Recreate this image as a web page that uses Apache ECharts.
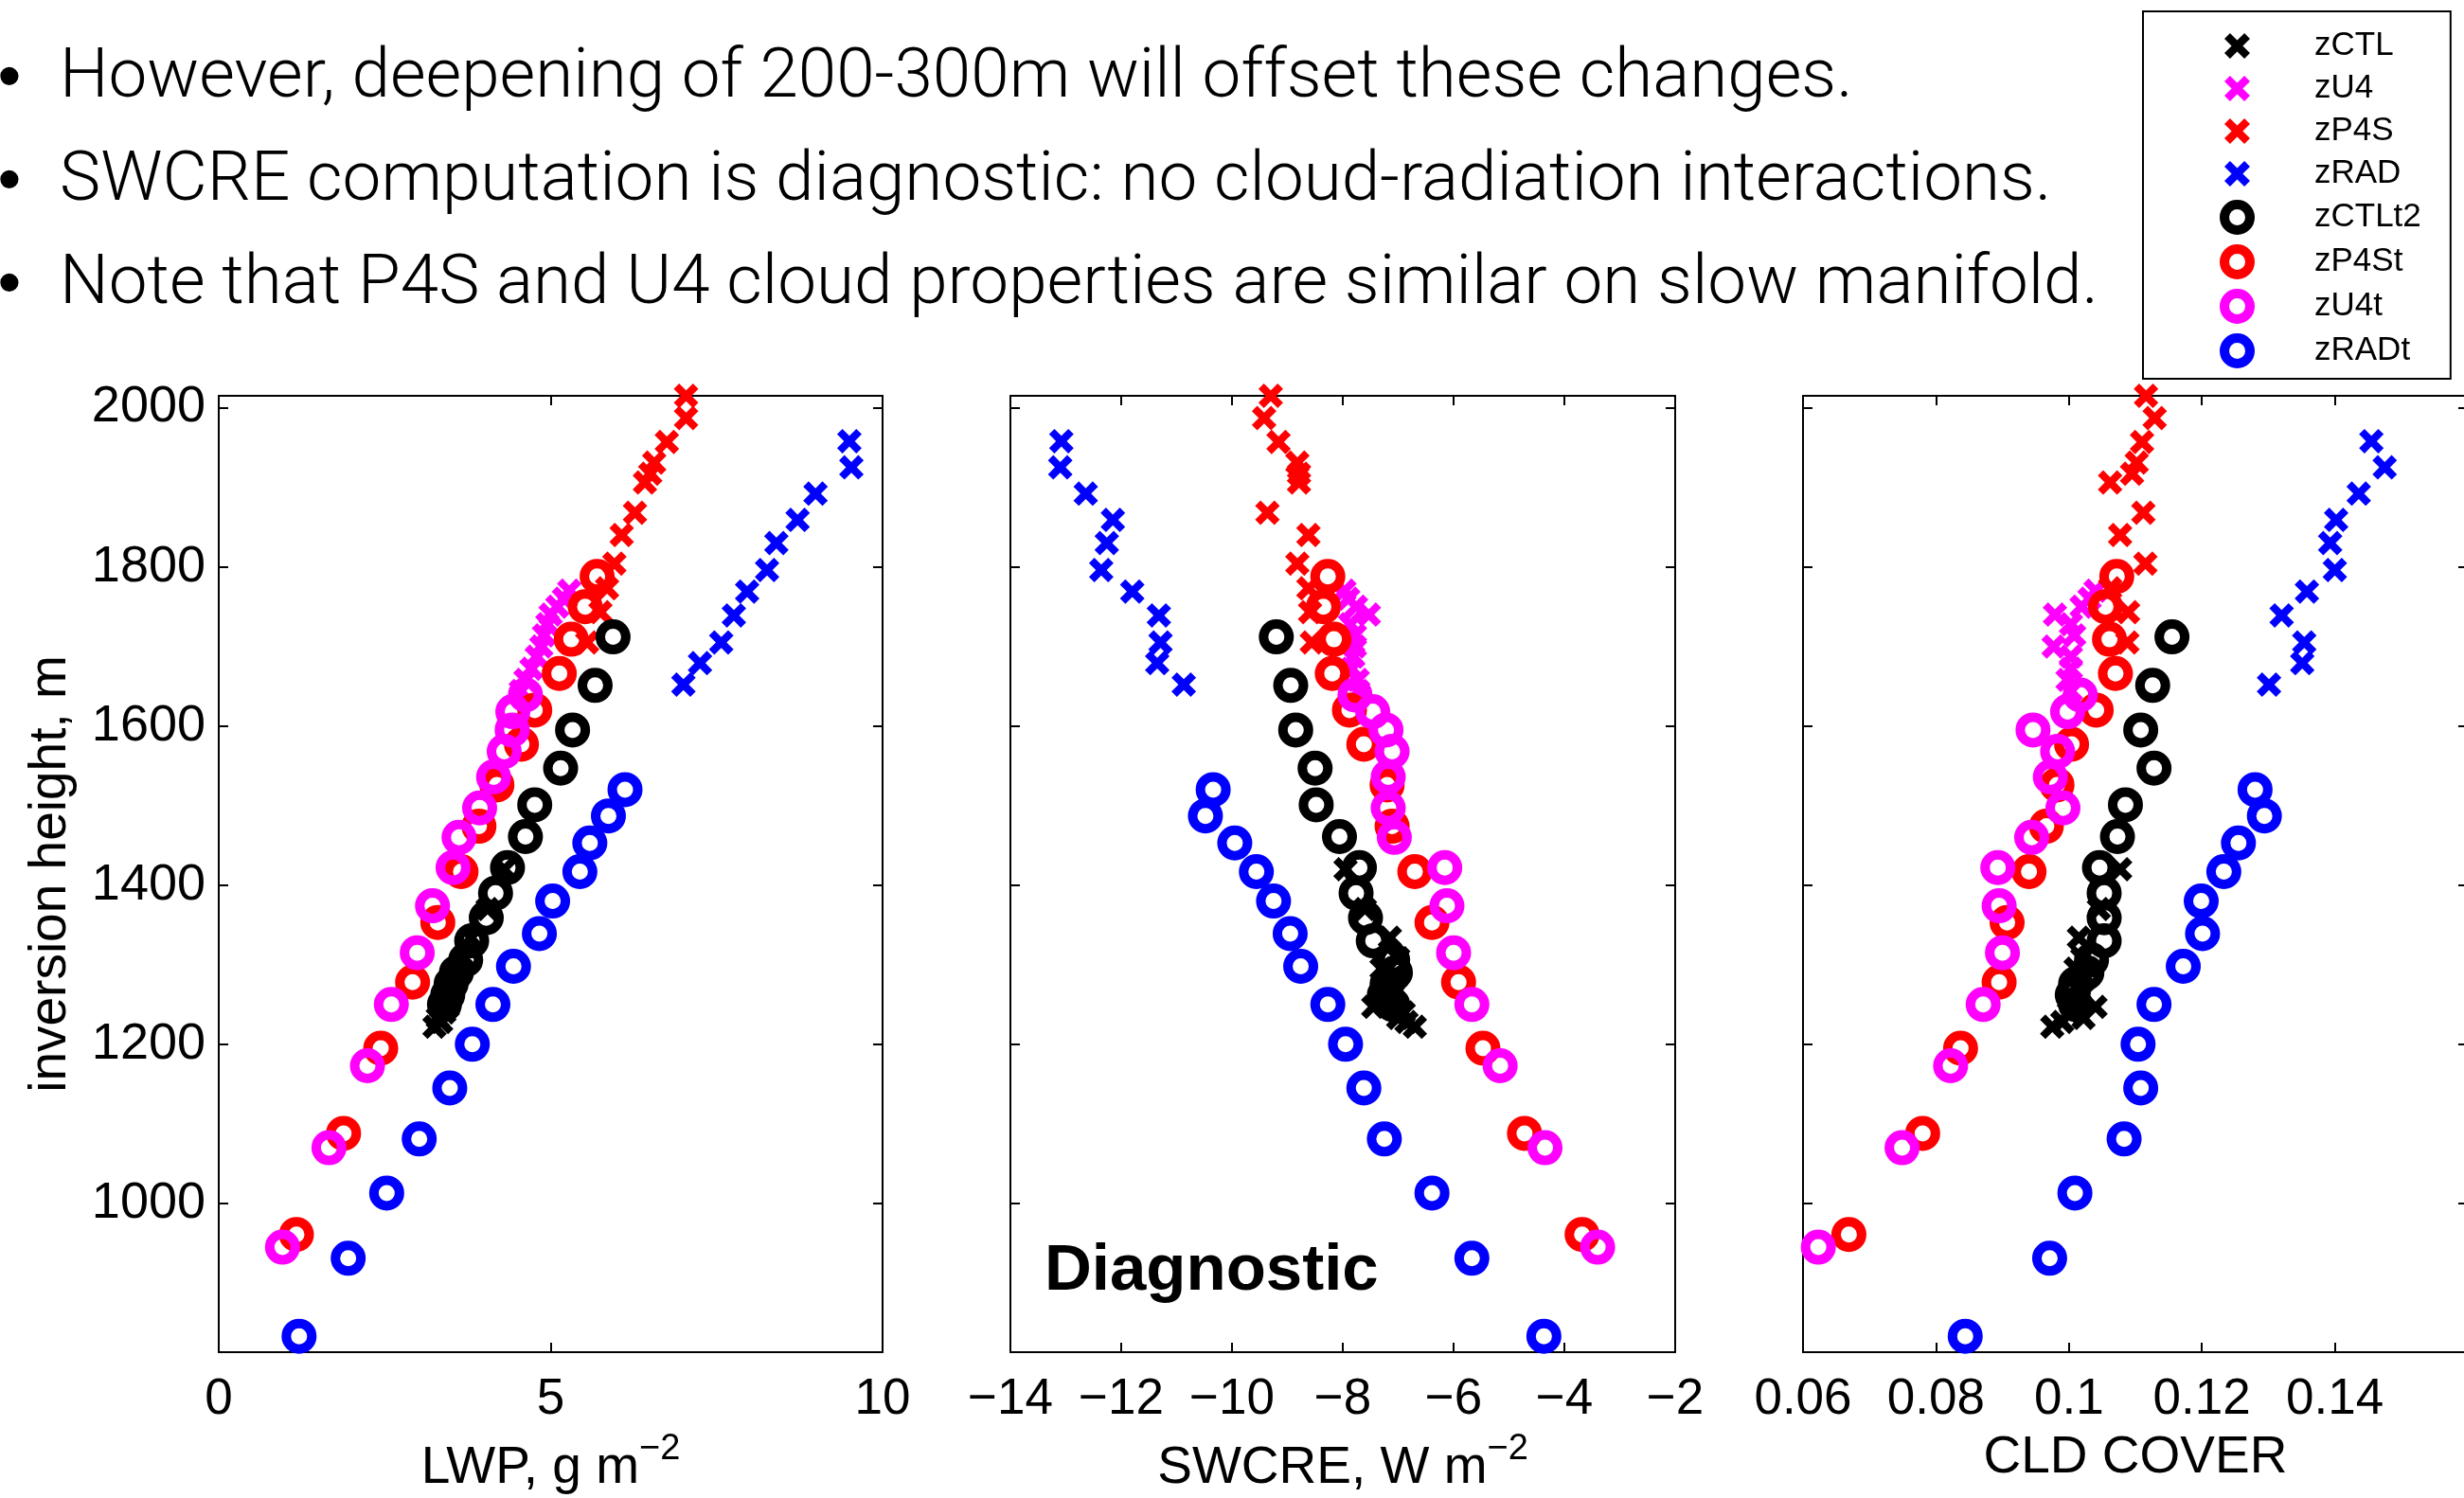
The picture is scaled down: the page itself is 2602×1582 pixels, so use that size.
<!DOCTYPE html>
<html>
<head>
<meta charset="utf-8">
<script src="https://cdn.jsdelivr.net/npm/echarts@6/dist/echarts.min.js"></script>
<style>
  html, body { margin: 0; padding: 0; background: #fff; }
  #chart { width: 2602px; height: 1582px; }
</style>
</head>
<body>
<div id="chart"></div>
<script>
// inversion height (m) of each run, and the three diagnostics at those heights
const zCTL_z     = [1222, 1228, 1233, 1240, 1247, 1253, 1262, 1272, 1283, 1295, 1308, 1334, 1370, 1420];
const zCTL_lwp   = [3.25, 3.35, 3.30, 3.40, 3.45, 3.42, 3.50, 3.52, 3.58, 3.62, 3.70, 3.80, 4.05, 4.30];
const zCTL_swcre = [-6.70, -6.85, -7.00, -6.90, -7.45, -7.20, -7.10, -7.25, -7.05, -7.30, -7.00, -7.15, -7.60, -7.95];
const zCTL_cld   = [0.0975, 0.0990, 0.1022, 0.1000, 0.1040, 0.1005, 0.1020, 0.1015, 0.1025, 0.1010, 0.1020, 0.1015, 0.1045, 0.1077];

const zU4_z     = [1644, 1658, 1672, 1687, 1700, 1714, 1728, 1740, 1750, 1760, 1770];
const zU4_lwp   = [4.55, 4.62, 4.71, 4.79, 4.86, 4.90, 4.95, 5.00, 5.10, 5.20, 5.28];
const zU4_swcre = [-7.72, -7.73, -7.84, -7.81, -7.78, -7.78, -7.87, -7.53, -7.76, -7.90, -7.97];
const zU4_cld   = [0.1003, 0.0998, 0.1003, 0.1003, 0.0977, 0.1008, 0.1003, 0.0979, 0.1019, 0.1031, 0.1040];

const zP4S_z     = [1705, 1743, 1773, 1804, 1840, 1868, 1906, 1917, 1931, 1957, 1987, 2015];
const zP4S_lwp   = [5.55, 5.75, 5.85, 5.96, 6.07, 6.27, 6.42, 6.50, 6.56, 6.75, 7.04, 7.04];
const zP4S_swcre = [-8.56, -8.59, -8.62, -8.82, -8.62, -9.36, -8.79, -8.79, -8.82, -9.16, -9.42, -9.30];
const zP4S_cld   = [0.1088, 0.1089, 0.1062, 0.1115, 0.1077, 0.1112, 0.1062, 0.1095, 0.1102, 0.1110, 0.1129, 0.1116];

const zRAD_z     = [1652, 1679, 1705, 1739, 1769, 1796, 1830, 1859, 1892, 1925, 1958];
const zRAD_lwp   = [7.00, 7.25, 7.57, 7.76, 7.96, 8.26, 8.40, 8.72, 8.99, 9.53, 9.50];
const zRAD_swcre = [-10.87, -11.35, -11.29, -11.32, -11.80, -12.36, -12.26, -12.15, -12.64, -13.10, -13.08];
const zRAD_cld   = [0.1301, 0.1351, 0.1354, 0.1320, 0.1358, 0.1400, 0.1393, 0.1402, 0.1436, 0.1475, 0.1455];

const zCTLt2_z     = [1250, 1262, 1276, 1290, 1306, 1330, 1359, 1390, 1422, 1461, 1501, 1547, 1595, 1651, 1712];
const zCTLt2_lwp   = [3.40, 3.45, 3.50, 3.58, 3.72, 3.81, 4.03, 4.17, 4.35, 4.62, 4.76, 5.15, 5.33, 5.67, 5.94];
const zCTLt2_swcre = [-7.10, -7.25, -7.20, -7.05, -7.10, -7.45, -7.59, -7.76, -7.70, -8.06, -8.48, -8.50, -8.85, -8.94, -9.20];
const zCTLt2_cld   = [0.1010, 0.1005, 0.1010, 0.1027, 0.1034, 0.1053, 0.1053, 0.1053, 0.1046, 0.1073, 0.1085, 0.1128, 0.1108, 0.1126, 0.1155];

const zP4St_z     = [961, 1088, 1195, 1278, 1353, 1417, 1474, 1526, 1577, 1620, 1666, 1709, 1750, 1788];
const zP4St_lwp   = [1.17, 1.88, 2.44, 2.92, 3.30, 3.65, 3.92, 4.19, 4.56, 4.76, 5.13, 5.31, 5.52, 5.70];
const zP4St_swcre = [-3.68, -4.72, -5.47, -5.91, -6.39, -6.70, -7.11, -7.20, -7.62, -7.88, -8.19, -8.16, -8.35, -8.27];
const zP4St_cld   = [0.0669, 0.0780, 0.0837, 0.0895, 0.0907, 0.0940, 0.0966, 0.0982, 0.1004, 0.1041, 0.1070, 0.1061, 0.1055, 0.1072];

const zU4t_z     = [945, 1070, 1173, 1250, 1315, 1374, 1422, 1460, 1497, 1536, 1568, 1595, 1618, 1639];
const zU4t_lwp   = [0.96, 1.66, 2.24, 2.60, 2.99, 3.22, 3.53, 3.62, 3.93, 4.14, 4.30, 4.42, 4.43, 4.62];
const zU4t_swcre = [-3.40, -4.35, -5.16, -5.67, -6.00, -6.12, -6.16, -7.07, -7.18, -7.18, -7.11, -7.22, -7.46, -7.78];
const zU4t_cld   = [0.0623, 0.0749, 0.0822, 0.0871, 0.0900, 0.0895, 0.0893, 0.0944, 0.0991, 0.0972, 0.0983, 0.0946, 0.0998, 0.1017];

const zRADt_z     = [833, 931, 1013, 1081, 1145, 1200, 1250, 1298, 1339, 1380, 1417, 1453, 1487, 1520];
const zRADt_lwp   = [1.21, 1.95, 2.53, 3.02, 3.48, 3.82, 4.13, 4.44, 4.83, 5.03, 5.44, 5.59, 5.87, 6.12];
const zRADt_swcre = [-4.37, -5.67, -6.39, -7.25, -7.62, -7.95, -8.27, -8.76, -8.95, -9.25, -9.56, -9.95, -10.48, -10.34];
const zRADt_cld   = [0.0844, 0.0971, 0.1009, 0.1083, 0.1108, 0.1104, 0.1128, 0.1172, 0.1201, 0.1199, 0.1233, 0.1255, 0.1294, 0.1280];

const yTicks = [1000, 1200, 1400, 1600, 1800, 2000];

const bullets = [
  'However, deepening of 200-300m will offset these changes.',
  'SWCRE computation is diagnostic: no cloud-radiation interactions.',
  'Note that P4S and U4 cloud properties are similar on slow manifold.',
];

const FONT = "'Liberation Sans', Arial, Helvetica, sans-serif";
// thick "x" marker (a plus sign turned by 45 degrees)
const CROSS = 'path://M78.1,0L100,21.9L71.9,50L100,78.1L78.1,100L50,71.9L21.9,100L0,78.1L28.1,50L0,21.9L21.9,0L50,28.1Z';

const runs = [
  { name: 'zCTL',   color: '#000000', mark: 'x', z: zCTL_z,   vals: [zCTL_lwp, zCTL_swcre, zCTL_cld] },
  { name: 'zU4',    color: '#ff00ff', mark: 'x', z: zU4_z,    vals: [zU4_lwp, zU4_swcre, zU4_cld] },
  { name: 'zP4S',   color: '#ff0000', mark: 'x', z: zP4S_z,   vals: [zP4S_lwp, zP4S_swcre, zP4S_cld] },
  { name: 'zRAD',   color: '#0000ff', mark: 'x', z: zRAD_z,   vals: [zRAD_lwp, zRAD_swcre, zRAD_cld] },
  { name: 'zCTLt2', color: '#000000', mark: 'o', z: zCTLt2_z, vals: [zCTLt2_lwp, zCTLt2_swcre, zCTLt2_cld] },
  { name: 'zP4St',  color: '#ff0000', mark: 'o', z: zP4St_z,  vals: [zP4St_lwp, zP4St_swcre, zP4St_cld] },
  { name: 'zU4t',   color: '#ff00ff', mark: 'o', z: zU4t_z,   vals: [zU4t_lwp, zU4t_swcre, zU4t_cld] },
  { name: 'zRADt',  color: '#0000ff', mark: 'o', z: zRADt_z,  vals: [zRADt_lwp, zRADt_swcre, zRADt_cld] },
];

const panels = [
  { left: 231,  width: 701, min: 0,    max: 10,   interval: 5,    title: 'LWP, g m{sup|\u22122}' },
  { left: 1067, width: 702, min: -14,  max: -2,   interval: 2,    title: 'SWCRE, W m{sup|\u22122}' },
  { left: 1904, width: 702, min: 0.06, max: 0.16, interval: 0.02, title: 'CLD COVER' },
];

const yMin = 813;
const yMax = 2015;

function fmtTick(v) {
  const n = parseFloat(Number(v).toFixed(4));
  return n < 0 ? '\u2212' + Math.abs(n) : String(n);
}

const axisLine = { show: true, onZero: false, lineStyle: { color: '#000', width: 2 } };
const tickStyle = { color: '#000', width: 2 };

function xAxes() {
  const bottom = panels.map((p, i) => ({
    type: 'value', gridIndex: i, position: 'bottom',
    min: p.min, max: p.max, interval: p.interval,
    axisLine,
    axisTick: { show: true, inside: true, length: 10, lineStyle: tickStyle },
    axisLabel: {
      color: '#000', fontSize: 53, fontFamily: FONT, margin: 24,
      showMinLabel: true, showMaxLabel: i !== 2, formatter: fmtTick,
    },
    splitLine: { show: false },
    name: p.title, nameLocation: 'middle', nameGap: 84,
    nameTextStyle: {
      color: '#000', fontSize: 55, fontFamily: FONT,
      rich: { sup: { color: '#000', fontSize: 38, fontFamily: FONT, padding: [0, 0, 40, 0] } },
    },
  }));
  const top = panels.map((p, i) => ({
    type: 'value', gridIndex: i, position: 'top',
    min: p.min, max: p.max, interval: p.interval,
    axisLine,
    axisTick: { show: true, inside: true, length: 10, lineStyle: tickStyle },
    axisLabel: { show: false },
    splitLine: { show: false },
  }));
  return bottom.concat(top);
}

function yAxes() {
  const left = panels.map((p, i) => ({
    type: 'value', gridIndex: i, position: 'left', min: yMin, max: yMax,
    axisLine,
    axisTick: { show: true, inside: true, length: 10, lineStyle: tickStyle, customValues: yTicks },
    axisLabel: {
      show: i === 0, customValues: yTicks, color: '#000', fontSize: 54, fontFamily: FONT, margin: 14,
      formatter: v => String(v),
    },
    splitLine: { show: false },
    name: i === 0 ? 'inversion height, m' : '', nameLocation: 'middle', nameGap: 150,
    nameTextStyle: { color: '#000', fontSize: 55, fontFamily: FONT },
  }));
  const right = panels.map((p, i) => ({
    type: 'value', gridIndex: i, position: 'right', min: yMin, max: yMax,
    axisLine,
    axisTick: { show: true, inside: true, length: 10, lineStyle: tickStyle, customValues: yTicks },
    axisLabel: { show: false },
    splitLine: { show: false },
  }));
  return left.concat(right);
}

function markerStyle(run) {
  if (run.mark === 'x') {
    return { symbol: CROSS, symbolSize: 26, itemStyle: { color: run.color, opacity: 1 } };
  }
  return {
    symbol: 'circle', symbolSize: 27,
    itemStyle: { color: 'rgba(0,0,0,0)', borderColor: run.color, borderWidth: 10, opacity: 1 },
  };
}

function buildSeries() {
  const out = [];
  panels.forEach((p, i) => {
    runs.forEach(run => {
      out.push(Object.assign({
        type: 'scatter', name: run.name, xAxisIndex: i, yAxisIndex: i, silent: true,
        data: run.vals[i].map((v, k) => [v, run.z[k]]),
      }, markerStyle(run)));
    });
  });
  return out;
}

function legendData() {
  return runs.map(run => run.mark === 'x'
    ? { name: run.name, icon: CROSS, itemStyle: { color: run.color, borderWidth: 0, opacity: 1 } }
    : { name: run.name, icon: 'circle', itemStyle: { color: 'rgba(0,0,0,0)', borderColor: run.color, borderWidth: 10, opacity: 1 } });
}

function textGraphics() {
  const g = [];
  const lineY = [84, 193, 302];
  bullets.forEach((t, i) => {
    g.push({ type: 'text', x: 10, y: lineY[i], style: {
      text: '\u2022', fontSize: 71, fontFamily: FONT, fill: '#000', align: 'center', verticalAlign: 'middle' } });
    g.push({ type: 'text', x: 63, y: lineY[i], style: {
      text: t, fontSize: 72.8, fontFamily: "Roboto, " + FONT, fontWeight: 300, fill: '#000', align: 'left', verticalAlign: 'middle' } });
  });
  g.push({ type: 'text', x: 1103, y: 1343, style: {
    text: 'Diagnostic', fontSize: 69, fontWeight: 'bold', fontFamily: FONT, fill: '#000', align: 'left', verticalAlign: 'middle' } });
  return g;
}

const chart = echarts.init(document.getElementById('chart'));
chart.setOption({
  animation: false,
  backgroundColor: '#fff',
  grid: panels.map(p => ({ left: p.left, top: 418, width: p.width, height: 1010, outerBoundsMode: 'none' })),
  xAxis: xAxes(),
  yAxis: yAxes(),
  legend: {
    orient: 'vertical', left: 2263, top: 12,
    padding: [19, 31, 11, 81],
    itemWidth: 27, itemHeight: 27, itemGap: 10,
    borderColor: '#000', borderWidth: 2,
    selectedMode: false,
    textStyle: { color: '#000', fontSize: 35, fontFamily: FONT, padding: [0, 0, 0, 63] },
    data: legendData(),
  },
  graphic: textGraphics(),
  series: buildSeries(),
});
</script>
</body>
</html>
